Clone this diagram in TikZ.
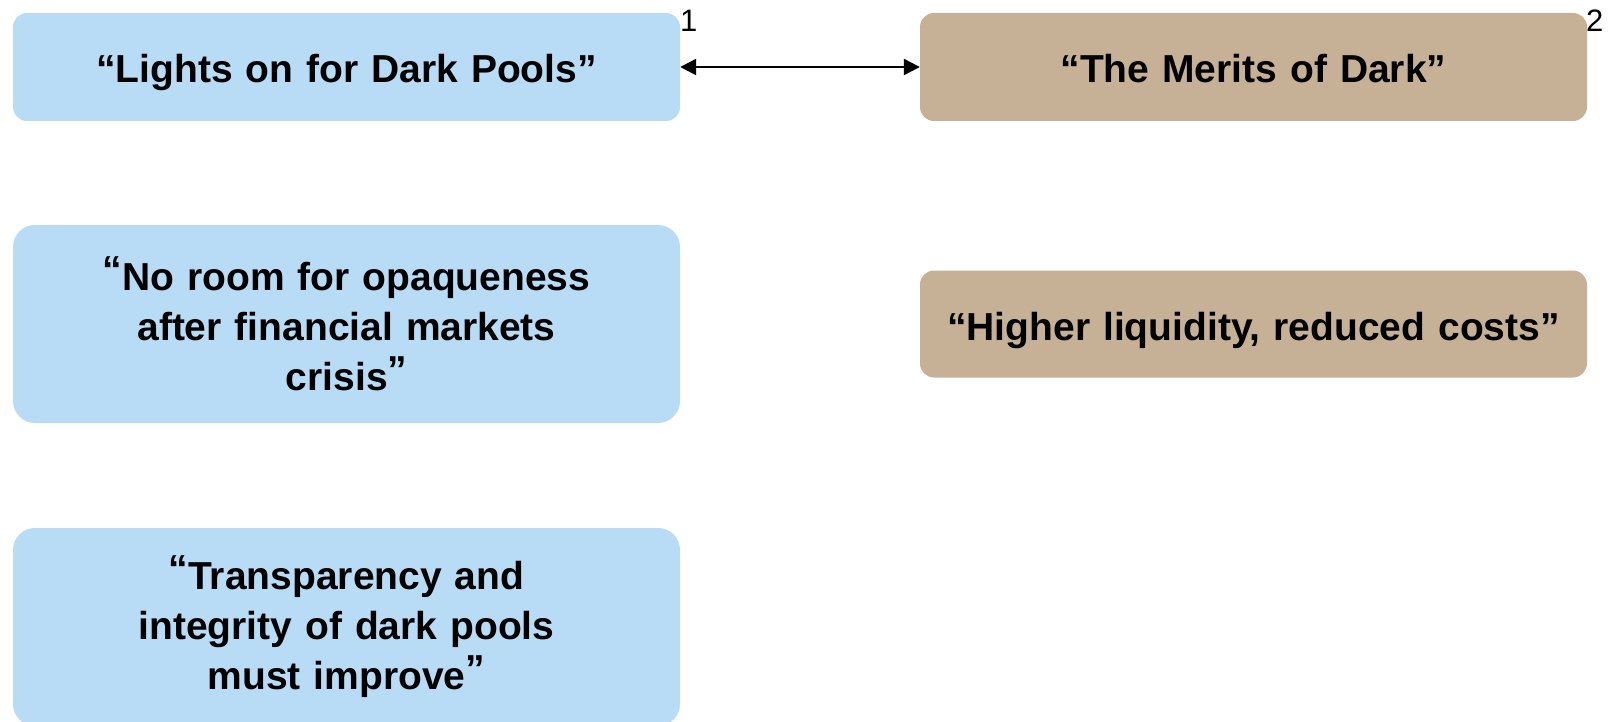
\documentclass[tikz,border=0pt]{standalone}
\usepackage{fontspec}
\setmainfont{Liberation Sans}
\usetikzlibrary{arrows.meta}
\definecolor{boxblue}{RGB}{184,220,245}
\definecolor{boxtan}{RGB}{198,177,151}
\newcommand{\raiseq}[1]{\raisebox{7pt}{#1}}
\tikzset{
  quotebox/.style={rectangle, rounded corners=14pt, draw=none, minimum width=667pt,
    text width=640pt, align=center, inner sep=0pt,
    font=\fontsize{39}{50}\selectfont\bfseries},
  oneline/.style={text height=36pt, text depth=4pt},
  bluebox/.style={quotebox, fill=boxblue},
  tanbox/.style={quotebox, fill=boxtan},
  numlabel/.style={inner sep=0pt, anchor=base west, font=\fontsize{31}{31}\selectfont},
  link/.style={line width=2.3pt, {Triangle[length=16pt,width=16pt]}-{Triangle[length=16pt,width=16pt]}}
}
\begin{document}
\begin{tikzpicture}[x=1pt,y=-1pt]
\useasboundingbox (0,0) rectangle (1608,722);
\node[bluebox, oneline, minimum height=108pt] (b1) at (346.5,67) {“Lights on for Dark Pools”};
\node[tanbox, oneline, minimum height=108pt] (b2) at (1253.5,67) {“The Merits of Dark”};
\node[bluebox, minimum height=198pt, rounded corners=22pt] (b3) at (346.5,324)
  {\raiseq{“}No room for opaqueness\\ after financial markets\\ crisis\raiseq{”}};
\node[tanbox, oneline, minimum height=107pt] (b4) at (1253.5,324) {“Higher liquidity, reduced costs”};
\node[bluebox, minimum height=198pt, rounded corners=22pt] (b5) at (346.5,627)
  {\raiseq{“}Transparency and\\ integrity of dark pools\\ must improve\raiseq{”}};
\node[numlabel] (n1) at (680,32) {1};
\node[numlabel] (n2) at (1586,32) {2};
\draw[link] (b1.east) -- (b2.west);
\end{tikzpicture}
\end{document}
